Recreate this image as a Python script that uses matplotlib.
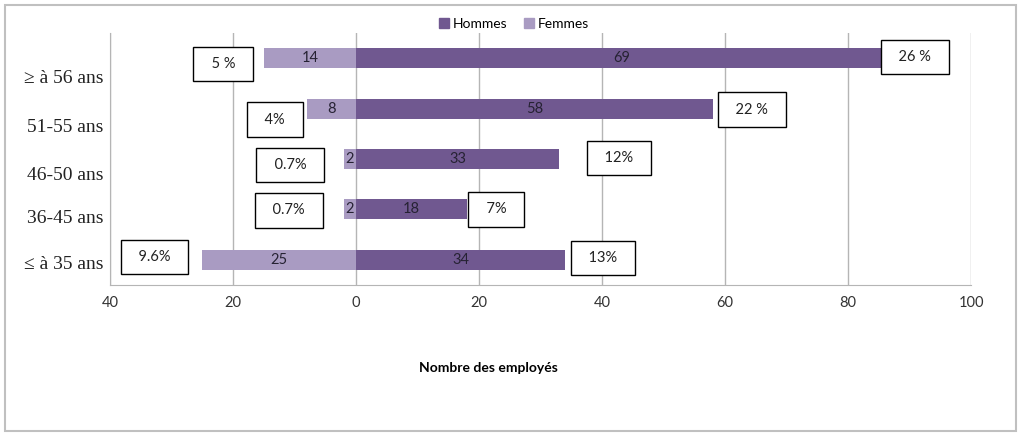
import numpy as np
import matplotlib
matplotlib.use('Agg')
import matplotlib.pyplot as plt
import matplotlib.transforms as mtransforms
from matplotlib.patches import Rectangle, Patch
from matplotlib.ticker import FuncFormatter

plt.rc('font', family='Lato')

# data (bottom row first)
ages = ['\u2264 à 35 ans', '36-45 ans', '46-50 ans', '51-55 ans', '\u2265 à 56 ans']
hommes = [34, 18, 33, 58, 86.5]          # bar lengths as drawn
hommes_lbl = ['34', '18', '33', '58', '69']
femmes = [25, 2, 2, 8, 15]
femmes_lbl = ['25', '2', '2', '8', '14']
pct_h = ['13%', '7%', '12%', '22 %', '26 %']
pct_f = ['9.6%', '0.7%', '0.7%', '4%', '5 %']

# layout of the percentage boxes (x centre, y shift)
pct_h_x = [40.2, 22.8, 42.8, 64.4, 90.9]
pct_h_dy = [0.04, 0.0, 0.02, -0.02, 0.02]
pct_f_x = [-32.8, -10.9, -10.7, -13.2, -21.6]
pct_f_dy = [0.06, -0.02, -0.12, -0.22, -0.12]
ylab_shift = [3, 7, 14, 17, 18]  # px downwards

c_h = '#705890'
c_f = '#a99bc2'

fig = plt.figure(figsize=(10.24, 4.38), dpi=100)
ax = fig.add_axes([110/1024, 1-285/438, (971-110)/1024, (285-33)/438])

y = np.arange(len(ages))
ax.barh(y, hommes, height=0.4, color=c_h, zorder=3)
ax.barh(y, [-v for v in femmes], height=0.4, color=c_f, zorder=3)

for i in range(len(ages)):
    ax.text(hommes[i]/2, y[i], hommes_lbl[i], ha='center', va='center', fontsize=10.5, color='#262233', zorder=4)
    ax.text(-femmes[i]/2, y[i], femmes_lbl[i], ha='center', va='center', fontsize=10.5, color='#262233', zorder=4)
    for txt, xx, dy in ((pct_h[i], pct_h_x[i], pct_h_dy[i]), (pct_f[i], pct_f_x[i], pct_f_dy[i])):
        ax.text(xx, y[i] + dy, '  ' + txt + '  ', ha='center', va='center', fontsize=10.5, color='#222222', zorder=5,
                bbox=dict(boxstyle='square,pad=0.7', fc='white', ec='black', lw=1))

ax.set_xlim(-40, 100)
ax.set_ylim(-0.5, 4.5)
ax.set_xticks(np.arange(-40, 101, 20))
ax.xaxis.set_major_formatter(FuncFormatter(lambda v, p: '%d' % abs(v)))
ax.tick_params(axis='x', length=0, pad=8, labelsize=10.5, colors='#333333')
ax.set_yticks(y)
ax.set_yticklabels(ages, fontfamily='Liberation Serif', fontsize=14, color='#222222')
ax.tick_params(axis='y', length=0, pad=5)
for lab, s in zip(ax.get_yticklabels(), ylab_shift):
    lab.set_transform(lab.get_transform() + mtransforms.ScaledTranslation(0, -s/100, fig.dpi_scale_trans))

ax.grid(True, axis='x', color='#b5b5b5', lw=1, zorder=0)
for side in ['top', 'right']:
    ax.spines[side].set_visible(False)
for side in ['left', 'bottom']:
    ax.spines[side].set_color('#b5b5b5')

fig.text(488/1024, 1-368/438, 'Nombre des employés', ha='center', va='center', fontsize=10, fontweight='bold')

handles = [Patch(color=c_h, label='Hommes'), Patch(color=c_f, label='Femmes')]
fig.legend(handles=handles, loc='center', bbox_to_anchor=(514/1024, 1-24/438), ncol=2, frameon=False,
           fontsize=10, handlelength=0.7, handleheight=0.7, handletextpad=0.3, columnspacing=1.2)

fig.patches.append(Rectangle((5/1024, 1-431/438), 1011/1024, 426/438, transform=fig.transFigure,
                             fill=False, ec='#c0c0c0', lw=1.5))

fig.savefig('out.png', dpi=100)
